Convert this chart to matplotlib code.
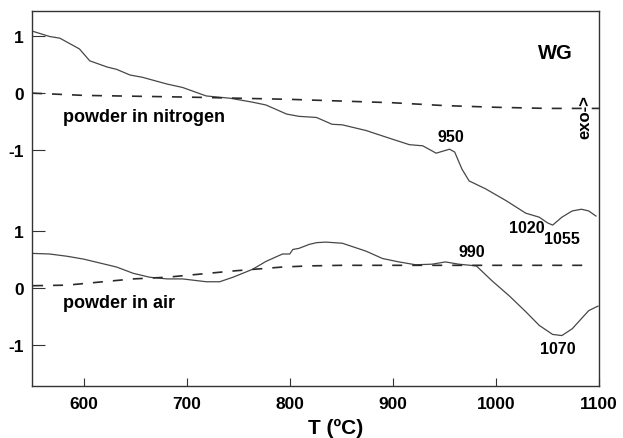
import numpy as np
import matplotlib.pyplot as plt

plt.rcParams['font.family'] = ['Liberation Sans', 'DejaVu Sans']
plt.rcParams['font.weight'] = 'bold'

# offset between the two stacked DTA curves (in y units)
offset = 3.44

# powder in nitrogen (upper)
t_n = [551, 567, 577, 596, 606, 623, 632, 645, 657, 681, 696, 719, 742, 764, 777,
       797, 809, 826, 841, 851, 874, 899, 916, 929, 942, 955, 960, 967, 974, 990,
       1010, 1029, 1042, 1050, 1055, 1064, 1074, 1083, 1090, 1097]
dta_n = [1.09, 1.0, 0.97, 0.78, 0.57, 0.46, 0.42, 0.32, 0.28, 0.16, 0.1, -0.05, -0.09,
         -0.16, -0.21, -0.37, -0.41, -0.43, -0.55, -0.56, -0.66, -0.81, -0.91, -0.93,
         -1.06, -0.99, -1.04, -1.34, -1.55, -1.69, -1.9, -2.12, -2.19, -2.29, -2.33,
         -2.19, -2.08, -2.05, -2.08, -2.17]
t_nb = [550, 600, 700, 800, 900, 950, 1000, 1050, 1100]
base_n = [0.0, -0.04, -0.07, -0.11, -0.17, -0.22, -0.25, -0.27, -0.27]

# powder in air (lower)
t_a = [551, 567, 584, 600, 616, 632, 648, 664, 681, 696, 719, 732, 745, 764, 777,
       793, 800, 803, 809, 819, 826, 835, 851, 874, 890, 906, 922, 938, 951, 964,
       981, 996, 1013, 1029, 1042, 1055, 1064, 1074, 1083, 1090, 1099]
dta_a = [0.61, 0.6, 0.56, 0.51, 0.44, 0.37, 0.26, 0.19, 0.16, 0.16, 0.11, 0.11, 0.19,
         0.33, 0.47, 0.6, 0.6, 0.68, 0.7, 0.77, 0.8, 0.81, 0.79, 0.65, 0.52, 0.46,
         0.41, 0.42, 0.46, 0.42, 0.39, 0.13, -0.14, -0.42, -0.66, -0.82, -0.84,
         -0.72, -0.54, -0.4, -0.32]
t_ab = [551, 584, 648, 681, 745, 793, 819, 850, 900, 1000, 1090]
base_a = [0.04, 0.05, 0.16, 0.19, 0.3, 0.37, 0.39, 0.4, 0.4, 0.4, 0.4]

fig = plt.figure(figsize=(6.23, 4.39), dpi=100)
ax = fig.add_axes([0.0514, 0.1185, 0.9101, 0.8542])

ax.plot(t_n, dta_n, color='#474747', lw=0.9)
ax.plot(t_nb, base_n, color='#2a2a2a', lw=1.2, ls=(0, (6, 6)))
ax.plot(t_a, np.array(dta_a) - offset, color='#474747', lw=0.9)
ax.plot(t_ab, np.array(base_a) - offset, color='#2a2a2a', lw=1.2, ls=(0, (6, 6)))

ax.set_xlim(550, 1100)
ax.set_ylim(-5.17, 1.45)
ax.set_xticks([600, 700, 800, 900, 1000, 1100])
ax.set_yticks([1, 0, -1, 1 - offset, -offset, -1 - offset])
ax.set_yticklabels(['1', '0', '-1', '1', '0', '-1'])
ax.tick_params(axis='both', direction='in', labelsize=12.5, color='#333333')
ax.tick_params(axis='y', length=9, pad=6)
ax.tick_params(axis='x', length=6, pad=7)
for s in ax.spines.values():
    s.set_color('#333333')
    s.set_linewidth(1.0)

ax.set_xlabel('T (ºC)', fontsize=15, fontweight='bold')
ax.xaxis.set_label_coords(0.536, -0.085)

ax.text(1058, 0.72, 'WG', fontsize=14.5, fontweight='bold', ha='center', va='center')
ax.text(1086, -0.41, 'exo->', fontsize=12, fontweight='bold', rotation=90,
        ha='center', va='center')
ax.text(580, -0.42, 'powder in nitrogen', fontsize=13, fontweight='bold', va='center')
ax.text(580, -0.26 - offset, 'powder in air', fontsize=13, fontweight='bold', va='center')
ax.text(956, -0.76, '950', fontsize=11.5, fontweight='bold', ha='center', va='center')
ax.text(1030, -2.38, '1020', fontsize=11.5, fontweight='bold', ha='center', va='center')
ax.text(1064, -2.57, '1055', fontsize=11.5, fontweight='bold', ha='center', va='center')
ax.text(977, 0.65 - offset, '990', fontsize=11.5, fontweight='bold', ha='center', va='center')
ax.text(1060, -1.07 - offset, '1070', fontsize=11.5, fontweight='bold', ha='center', va='center')

fig.savefig('out.png', dpi=100)
